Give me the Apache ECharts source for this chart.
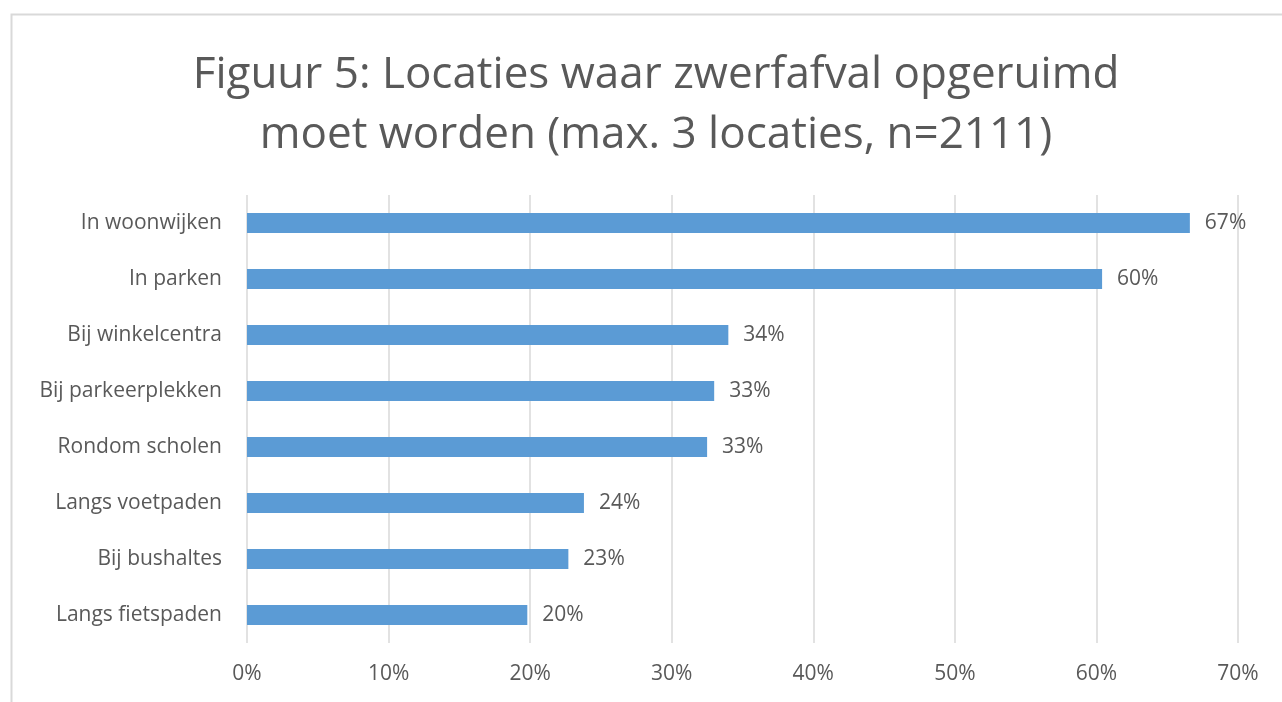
<!DOCTYPE html>
<html><head><meta charset="utf-8">
<script src="https://cdn.jsdelivr.net/npm/echarts@6/dist/echarts.min.js"></script>
<style>html,body{margin:0;padding:0;background:#fff}#c{width:1282px;height:702px}</style>
</head><body><div id="c"></div>
<script>
const titleText = 'Figuur 5: Locaties waar zwerfafval opgeruimd\nmoet worden (max. 3 locaties, n=2111)';
const categories = ['In woonwijken','In parken','Bij winkelcentra','Bij parkeerplekken','Rondom scholen','Langs voetpaden','Bij bushaltes','Langs fietspaden'];
const values = [66.6, 60.4, 34.0, 33.0, 32.5, 23.8, 22.7, 19.8];
const xTicks = [0,10,20,30,40,50,60,70];

const chart = echarts.init(document.getElementById('c'));
const font = '"Open Sans", sans-serif';
chart.setOption({
  animation:false,
  backgroundColor:'#fff',
  graphic:[{type:'rect',shape:{x:11.5,y:14.5,width:1300,height:720},style:{fill:'none',stroke:'#d9d9d9',lineWidth:2}}],
  title:{text:titleText,left:651,top:40,textAlign:'center',
    textStyle:{fontFamily:font,fontSize:44,fontWeight:'normal',color:'#595959',lineHeight:60}},
  grid:{left:247,right:44,top:195,bottom:59,containLabel:false},
  xAxis:{type:'value',min:0,max:70,interval:10,
    axisLine:{show:false},axisTick:{show:false},
    splitLine:{lineStyle:{color:'#d9d9d9',width:1.5}},
    axisLabel:{formatter:v=>v+'%',fontFamily:font,fontSize:21,color:'#595959',margin:21}},
  yAxis:{type:'category',data:categories,inverse:true,
    axisLine:{show:false},axisTick:{show:false},
    axisLabel:{fontFamily:font,fontSize:21,color:'#595959',margin:25}},
  series:[{type:'bar',data:values,barWidth:20,
    itemStyle:{color:'#5b9bd5'},
    label:{show:true,position:'right',distance:15,formatter:p=>Math.round(p.value)+'%',
      fontFamily:font,fontSize:21,color:'#595959'}}]
});
</script></body></html>
